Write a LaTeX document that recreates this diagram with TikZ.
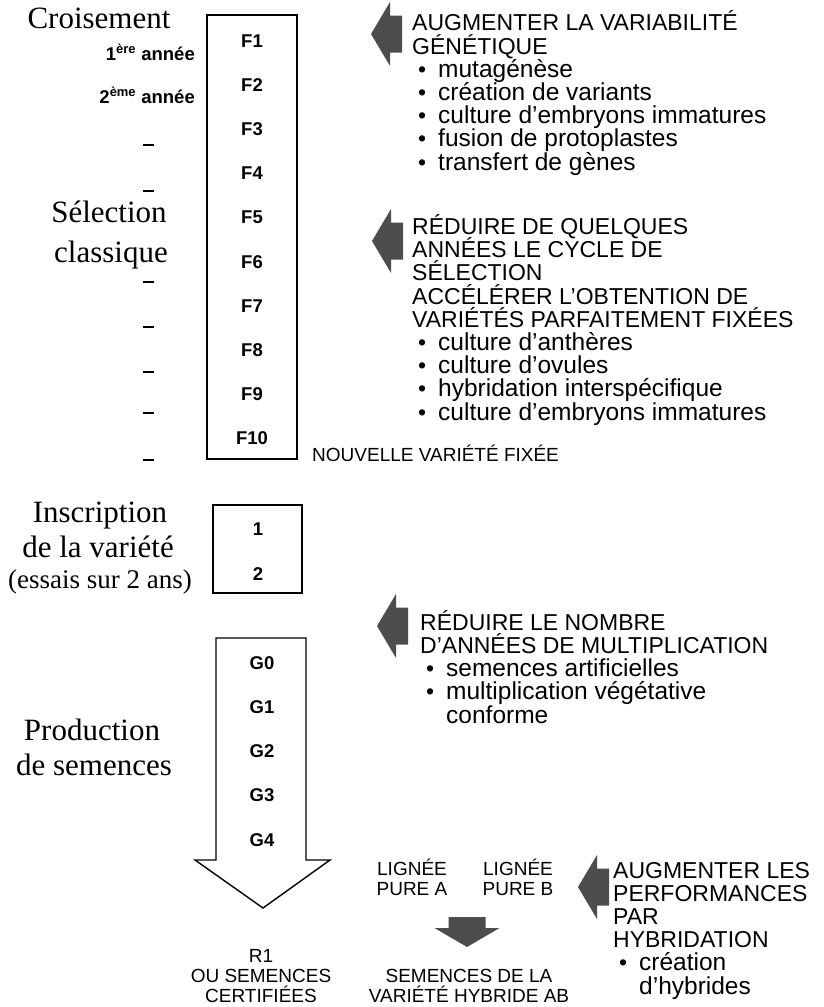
\documentclass[tikz,border=0pt]{standalone}
\usepackage{fontspec}
\setmainfont{Liberation Serif}
\setsansfont{Liberation Sans}
\usetikzlibrary{positioning}
\definecolor{cArrow}{HTML}{4D4D4D}

\newcommand{\stagefont}{\rmfamily\fontsize{31}{33}\selectfont}
\newcommand{\capsfont}{\sffamily\fontsize{23}{23.2}\selectfont\lineskiplimit=-20pt}
\newcommand{\lcsize}{\fontsize{24.5}{23.2}\selectfont}
\newcommand{\genfont}{\sffamily\bfseries\fontsize{18.5}{20}\selectfont}
\newcommand{\labfont}{\sffamily\fontsize{19}{20}\selectfont\lineskiplimit=-20pt}
\newcommand{\itm}[1]{\hspace*{6pt}\makebox[20pt][l]{\textbullet}{\lcsize #1}}

\tikzset{
  stage/.style={font=\stagefont, anchor=base, inner sep=0pt},
  yearlab/.style={font=\genfont, anchor=base, inner sep=0pt},
  tick/.style={inner sep=0pt},
  remark/.style={font=\capsfont, align=left, anchor=base west, inner sep=0pt},
  caption/.style={font=\labfont, align=center, anchor=base, inner sep=0pt},
  genbox/.style={draw, line width=1.8pt, inner sep=0pt},
  % grey block arrows, tip at the pic origin
  hintleft/.pic={\fill[cArrow] (0,0) -- (19,-32) -- (19,-18.5) -- (31,-18.5)
    -- (31,18.5) -- (19,18.5) -- (19,32) -- cycle;},
  hintdown/.pic={\fill[cArrow] (0,0) -- (-32.5,-19) -- (-18.5,-19) -- (-18.5,-30)
    -- (18.5,-30) -- (18.5,-19) -- (32.5,-19) -- cycle;},
}

\begin{document}
\begin{tikzpicture}[x=1pt, y=-1pt]
  \fill[white] (0,0) rectangle (823,1007);
  \useasboundingbox (0,0) rectangle (823,1007);

  % stages on the left
  \node[stage] (cross) at (99,28) {Croisement};
  \node[yearlab, anchor=base east] (year1) at (195,60) {1\textsuperscript{ère} année};
  \node[yearlab, anchor=base east] (year2) at (195,103) {2\textsuperscript{ème} année};
  \foreach \y in {145,191,282,327,372,413,460}
    \node[tick] (tick\y) at (148,\y) {\rule{11pt}{2.2pt}};
  \node[stage] (sel) at (109,222) {Sélection};
  \node[stage] (selb) at (111,262) {classique};
  \node[stage] (insc) at (100,522) {Inscription};
  \node[stage] (inscb) at (98,557) {de la variété};
  \node[stage, font=\rmfamily\fontsize{27}{29}\selectfont] (inscc) at (100,588) {(essais sur 2 ans)};
  \node[stage] (prod) at (92,740) {Production};
  \node[stage] (prodb) at (94,775) {de semences};

  % generations
  \node[genbox, minimum width=90pt, minimum height=444pt] (selbox) at (252,237) {};
  \foreach \f in {1,...,10}
    \node[yearlab] (f\f) at (252,{47+44.2*(\f-1)}) {F\f};
  \node[caption, anchor=base west] (newvar) at (312,461) {NOUVELLE VARIÉTÉ FIXÉE};

  \node[genbox, minimum width=89pt, minimum height=88pt] (insbox) at (257.5,549) {};
  \node[yearlab] (ins1) at (258,535) {1};
  \node[yearlab] (ins2) at (258,580) {2};

  \draw[line width=1.4pt, line join=miter] (216,638) -- (216,860) -- (195,860) -- (263,908)
    -- (330,860) -- (306,860) -- (306,638) -- cycle;
  \foreach \g in {0,...,4}
    \node[yearlab] (g\g) at (262,{669+44.25*\g}) {G\g};
  \node[caption] (cert) at (261,1002) {R1\\OU SEMENCES\\CERTIFIÉES};

  % hybrid seed
  \node[caption] (lineA) at (412,895) {LIGNÉE\\PURE A};
  \node[caption] (lineB) at (518,895) {LIGNÉE\\PURE B};
  \pic (hybarrow) at (467,947) {hintdown};
  \node[caption] (hybseed) at (469,1002) {SEMENCES DE LA\\VARIÉTÉ HYBRIDE AB};

  % biotechnology inputs
  \pic (arrGen) at (371,34) {hintleft};
  \node[remark] (genvar) at (412,170)
    {AUGMENTER LA VARIABILITÉ\\ GÉNÉTIQUE\\ \itm{mutagénèse}\\ \itm{création de variants}\\
     \itm{culture d'embryons immatures}\\ \itm{fusion de protoplastes}\\ \itm{transfert de gènes}};

  \pic (arrCycle) at (372,241) {hintleft};
  \node[remark] (cycle) at (412,420)
    {RÉDUIRE DE QUELQUES\\ ANNÉES LE CYCLE DE\\ SÉLECTION\\ ACCÉLÉRER L'OBTENTION DE\\
     VARIÉTÉS PARFAITEMENT FIXÉES\\ \itm{culture d'anthères}\\ \itm{culture d'ovules}\\
     \itm{hybridation interspécifique}\\ \itm{culture d'embryons immatures}};

  \pic (arrMult) at (377,626) {hintleft};
  \node[remark] (mult) at (420,723)
    {RÉDUIRE LE NOMBRE\\ D'ANNÉES DE MULTIPLICATION\\ \itm{semences artificielles}\\
     \itm{multiplication végétative}\\ \hspace*{26pt}{\lcsize conforme}};

  \pic (arrHyb) at (578,887) {hintleft};
  \node[remark] (hyb) at (613,994)
    {AUGMENTER LES\\ PERFORMANCES\\ PAR\\ HYBRIDATION\\ \itm{création}\\ \hspace*{26pt}{\lcsize d'hybrides}};
\end{tikzpicture}
\end{document}
